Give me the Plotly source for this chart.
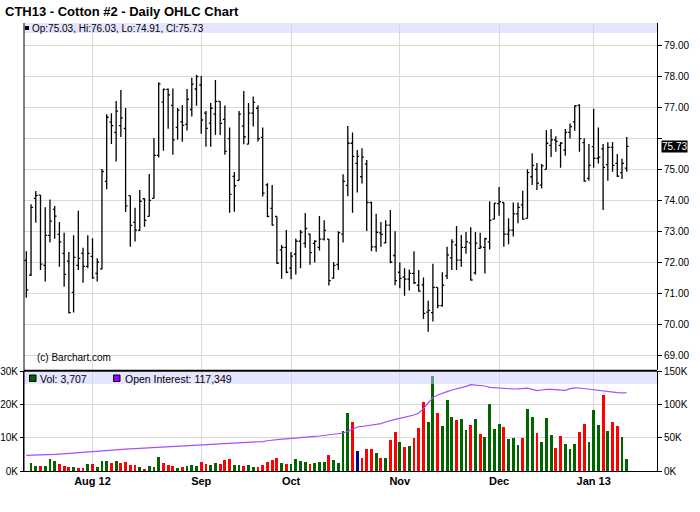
import plotly.graph_objects as go
import pandas as pd

# ---------------- data ----------------
holidays = ["2012-09-03", "2012-11-22", "2012-12-25", "2013-01-01"]
dates = [d.strftime("%Y-%m-%d") for d in pd.bdate_range("2012-07-12", "2013-01-11")
         if d.strftime("%Y-%m-%d") not in holidays]

month_ticks = ["2012-08-01", "2012-09-04", "2012-10-01", "2012-11-01", "2012-12-03", "2013-01-02"]
month_labels = ["Aug 12", "Sep", "Oct", "Nov", "Dec", "Jan 13"]

opens = [72.05, 71.58, 74.05, 74.16, 71.89, 72.86, 73.70, 72.89, 72.28, 72.03,
         71.02, 71.89, 72.28, 71.86, 72.18, 71.63, 71.78, 74.60, 76.51, 76.18,
         76.40, 76.31, 74.14, 73.28, 73.03, 74.04, 73.47, 74.05, 75.44, 77.16,
         77.57, 77.05, 76.34, 76.52, 76.44, 76.92, 77.58, 77.71, 76.80, 76.48,
         76.77, 77.18, 76.60, 75.98, 74.76, 74.63, 76.38, 75.80, 76.80, 76.96,
         76.02, 74.49, 73.73, 73.47, 72.39, 72.47, 71.80, 72.25, 72.67, 72.60,
         72.90, 72.60, 72.47, 72.74, 72.74, 71.48, 71.92, 72.90, 74.47, 75.83,
         75.18, 74.75, 75.16, 73.92, 72.49, 72.94, 72.62, 73.19, 72.21, 71.67,
         71.51, 71.45, 71.63, 71.25, 71.26, 70.38, 70.37, 71.18, 70.59, 71.55,
         72.13, 72.55, 72.06, 72.47, 72.62, 71.65, 72.44, 72.47, 72.65, 73.38,
         73.88, 73.92, 72.90, 73.03, 73.55, 73.84, 73.41, 74.75, 74.99, 74.48,
         74.99, 75.76, 75.94, 75.76, 75.61, 76.18, 76.52, 77.05, 75.85, 74.70,
         75.72, 75.34, 75.65, 75.14, 75.70, 75.18, 74.88, 75.03]
highs = [72.35, 73.86, 74.29, 74.16, 73.77, 74.02, 73.81, 73.29, 72.94, 72.32,
         72.86, 73.65, 72.46, 72.86, 72.77, 72.12, 75.00, 76.77, 76.80, 77.19,
         77.55, 76.97, 74.14, 73.75, 74.32, 74.06, 74.84, 76.00, 77.80, 77.60,
         77.60, 77.60, 76.97, 77.06, 77.58, 77.94, 78.04, 78.00, 76.87, 77.13,
         77.87, 77.18, 77.05, 76.34, 74.90, 76.87, 77.52, 77.13, 77.34, 77.06,
         76.34, 74.54, 74.48, 73.47, 72.55, 73.03, 72.32, 72.76, 73.03, 73.58,
         72.92, 72.70, 73.48, 73.35, 72.74, 72.00, 72.99, 74.83, 76.39, 76.18,
         75.61, 75.67, 75.29, 73.94, 73.56, 73.29, 73.35, 73.68, 72.99, 71.98,
         71.80, 71.76, 72.35, 71.74, 71.50, 70.75, 71.94, 71.18, 71.67, 72.49,
         72.73, 73.16, 72.87, 72.97, 73.12, 72.97, 72.94, 72.78, 73.96, 73.90,
         74.42, 73.92, 73.41, 73.92, 73.92, 74.30, 74.99, 75.51, 75.19, 75.16,
         76.26, 76.29, 76.06, 75.87, 76.29, 76.47, 77.05, 77.09, 75.99, 75.81,
         76.94, 76.34, 75.81, 75.86, 75.87, 75.48, 75.33, 76.03]
lows = [70.85, 71.55, 73.27, 71.74, 71.37, 72.63, 72.75, 71.85, 71.20, 70.34,
        70.37, 71.74, 71.33, 71.80, 71.46, 71.37, 71.76, 74.35, 75.81, 75.24,
        76.03, 73.61, 72.49, 72.66, 73.00, 73.14, 73.47, 74.05, 75.37, 75.59,
        76.30, 75.46, 75.94, 75.88, 76.24, 76.69, 77.04, 76.14, 75.72, 75.72,
        76.10, 76.10, 75.46, 73.59, 73.62, 74.63, 75.80, 75.80, 76.37, 75.89,
        74.11, 73.44, 73.18, 71.94, 71.46, 71.64, 71.44, 71.60, 71.80, 72.46,
        71.91, 71.98, 72.37, 72.69, 71.24, 71.46, 71.74, 72.63, 74.12, 73.59,
        74.24, 74.53, 73.00, 72.35, 72.33, 72.49, 72.60, 71.96, 71.25, 71.15,
        70.91, 71.08, 71.29, 71.04, 70.16, 69.75, 70.08, 70.51, 70.56, 71.45,
        71.74, 71.74, 71.85, 72.27, 71.40, 71.60, 72.42, 71.63, 72.40, 73.38,
        73.49, 72.49, 72.57, 72.82, 73.25, 73.36, 73.41, 74.48, 74.32, 74.37,
        74.99, 75.39, 75.56, 75.04, 75.43, 75.98, 76.23, 75.56, 74.59, 74.62,
        75.04, 75.18, 73.68, 74.62, 74.91, 74.74, 74.68, 74.91]
closes = [71.10, 73.76, 74.15, 71.93, 72.86, 73.32, 73.48, 72.65, 71.60, 70.37,
          72.15, 72.12, 71.86, 72.28, 71.49, 72.00, 74.92, 76.67, 76.40, 76.87,
          76.65, 73.81, 73.18, 73.03, 73.96, 73.34, 73.99, 75.44, 77.74, 77.57,
          77.39, 75.94, 76.90, 76.41, 77.25, 77.74, 77.98, 76.58, 76.31, 76.96,
          77.18, 76.47, 75.57, 74.18, 74.46, 76.77, 76.04, 76.80, 77.15, 75.98,
          74.22, 73.47, 73.19, 71.96, 72.47, 71.67, 72.19, 72.67, 72.96, 73.08,
          72.30, 72.67, 72.74, 73.02, 71.40, 71.89, 72.95, 74.60, 75.83, 75.41,
          75.41, 75.38, 73.92, 72.49, 72.96, 72.89, 73.19, 72.00, 71.40, 71.47,
          71.45, 71.63, 71.33, 71.06, 70.34, 70.44, 71.18, 70.59, 71.25, 72.23,
          72.65, 72.06, 72.47, 72.66, 71.42, 72.61, 72.49, 72.75, 73.34, 73.90,
          73.95, 72.90, 73.03, 73.55, 73.76, 73.38, 74.88, 75.12, 74.54, 75.10,
          75.83, 75.94, 75.89, 75.83, 76.18, 76.37, 77.04, 75.98, 74.61, 75.12,
          75.34, 75.38, 75.05, 75.70, 75.12, 74.77, 75.18, 75.73]

volume_k = [None, 2.3, 1.5, 1.5, 1.5, 3.6, 3.0, 2.1, 1.5, 1.2,
            1.2, 0.9, 0.9, 2.1, 2.1, 1.2, 3.0, 3.0, 2.4, 3.0,
            2.4, 2.7, 1.8, 1.8, 1.2, 0.6, 1.5, 1.2, 4.2, 2.4,
            1.8, 1.5, 0.9, 1.2, 1.5, 1.8, 1.5, 2.7, 2.1, 1.8,
            2.4, 2.1, 3.3, 3.6, 1.8, 1.8, 1.5, 1.8, 1.2, 1.2,
            1.8, 2.7, 3.3, 3.9, 2.4, 2.1, 2.1, 3.6, 3.0, 2.7,
            2.1, 2.4, 2.7, 2.7, 4.8, 3.3, 2.4, 12.0, 17.4, 14.7,
            6.1, 4.0, 6.6, 6.6, 5.4, 4.0, 4.0, 9.3, 11.8, 8.8,
            7.2, 7.5, 9.9, 12.9, 20.6, 14.7, 28.4, 17.4, 13.6, 21.2,
            16.2, 15.3, 15.6, 12.3, 13.8, 15.6, 11.1, 10.2, 20.0, 12.6,
            14.1, 13.2, 9.6, 9.9, 7.8, 9.9, 18.5, 16.2, 11.4, 8.7,
            15.9, 10.8, 6.9, 10.5, 8.1, 6.6, 8.1, 11.7, 14.1, 8.7,
            18.2, 13.8, 22.8, 12.0, 14.7, 13.5, 10.2, 3.707]

open_interest_k = [23.4, 23.5, 23.6, 23.8, 24.0, 24.3, 24.8, 25.4, 26.0, 26.5,
                   27.0, 27.4, 27.8, 28.3, 28.8, 29.6, 30.4, 31.2, 31.6, 32.0,
                   32.4, 32.7, 33.1, 33.5, 33.9, 34.3, 34.7, 35.0, 35.4, 35.8,
                   36.1, 36.5, 36.9, 37.2, 37.6, 37.9, 38.3, 38.6, 38.9, 39.2,
                   39.6, 39.9, 40.3, 40.6, 41.0, 41.4, 41.8, 42.3, 42.8, 43.3,
                   44.2, 45.4, 46.5, 47.3, 47.8, 48.3, 48.7, 49.1, 49.5, 50.3,
                   51.1, 51.8, 52.5, 53.2, 53.8, 54.5, 55.3, 57.0, 59.5, 63.0,
                   66.0, 66.8, 67.6, 68.6, 69.8, 71.0, 73.5, 76.0, 77.5, 79.0,
                   80.5, 82.0, 84.0, 87.0, 93.5, 102.0, 110.0, 114.0, 116.0, 119.0,
                   121.5, 123.0, 124.5, 127.0, 129.5, 129.0, 128.0, 127.5, 125.5, 124.8,
                   124.0, 123.5, 123.2, 123.0, 123.2, 123.8, 124.2, 122.5, 120.5, 121.5,
                   122.5, 122.3, 122.0, 121.5, 121.0, 123.5, 124.8, 124.5, 123.5, 122.5,
                   122.0, 120.5, 119.5, 118.5, 117.8, 117.5, 117.3, 117.349]

price_ticks = [69, 70, 71, 72, 73, 74, 75, 76, 77, 78, 79]
vol_ticks = [0, 10, 20, 30]
oi_ticks = [0, 50, 100, 150]

# ---------------- styling ----------------
W, H = 700, 512
L, R, T, B = 24, 43, 23, 41
PW, PH = W - L - R, H - T - B
FONT = "Liberation Sans, Arial, Helvetica, sans-serif"
GRID = "#d9d9d9"


def px(x):
    return (x - L) / PW


def py(y):
    return (H - B - y) / PH


vol_colors = []
for i in range(len(closes)):
    if i == 0 or closes[i] > closes[i - 1]:
        vol_colors.append("#006400")
    elif closes[i] < closes[i - 1]:
        vol_colors.append("#ff0000")
    else:
        vol_colors.append("#000080")

fig = go.Figure()
fig.add_trace(go.Ohlc(
    x=dates, open=opens, high=highs, low=lows, close=closes,
    increasing=dict(line=dict(color="black", width=1.3)),
    decreasing=dict(line=dict(color="black", width=1.3)),
    tickwidth=0.4, xaxis="x", yaxis="y", showlegend=False, hoverinfo="skip"))
fig.add_trace(go.Bar(
    x=dates, y=volume_k, marker=dict(color=vol_colors, line=dict(width=0)),
    width=0.6, xaxis="x2", yaxis="y2", showlegend=False, hoverinfo="skip"))
fig.add_trace(go.Scatter(
    x=dates, y=open_interest_k, mode="lines", line=dict(color="#a64dff", width=1.2),
    xaxis="x2", yaxis="y3", showlegend=False, hoverinfo="skip"))

price_lo = 69 - (370 - 355) / 31
price_hi = 79 + (45 - 23) / 31
xrange = [-0.49, 133.4]

price_text = ["" if v == 76 else f"{v:.2f}" for v in price_ticks]

fig.update_layout(
    width=W, height=H, autosize=False,
    margin=dict(l=L, r=R, t=T, b=B, pad=0, autoexpand=False),
    paper_bgcolor="white", plot_bgcolor="white",
    font=dict(family=FONT, size=10, color="black"),
    bargap=0, showlegend=False,
    xaxis=dict(anchor="y", type="category", range=xrange, tickvals=month_ticks,
               showticklabels=False, showgrid=True, gridcolor=GRID, gridwidth=1,
               ticks="", zeroline=False, showline=False, automargin=False,
               rangeslider=dict(visible=False)),
    xaxis2=dict(anchor="y2", type="category", matches="x", range=xrange,
                tickvals=month_ticks, ticktext=[f"<b>{t}</b>" for t in month_labels],
                tickfont=dict(size=11, family=FONT, color="black"),
                showgrid=True, gridcolor=GRID, gridwidth=1, ticks="", automargin=False,
                zeroline=False, showline=True, linecolor="black", linewidth=1),
    yaxis=dict(domain=[py(370), 1], range=[price_lo, price_hi], side="right",
               tickvals=price_ticks, ticktext=price_text, automargin=False,
               tickfont=dict(size=10, family=FONT, color="black"),
               ticks="outside", ticklen=4, tickcolor="black",
               showgrid=True, gridcolor=GRID, gridwidth=1,
               showline=True, linecolor="black", linewidth=1, zeroline=False),
    yaxis2=dict(domain=[0, py(371)], range=[0, 30], side="left", anchor="x2",
                tickvals=vol_ticks, ticktext=[f"{v}K" for v in vol_ticks],
                tickfont=dict(size=10, family=FONT, color="black"), automargin=False,
                ticks="outside", ticklen=3, tickcolor="black",
                showgrid=True, gridcolor=GRID, gridwidth=1,
                showline=True, linecolor="black", linewidth=1, zeroline=False),
    yaxis3=dict(overlaying="y2", anchor="x2", side="right", range=[0, 150],
                tickvals=oi_ticks, ticktext=[f"{v}K" for v in oi_ticks],
                tickfont=dict(size=10, family=FONT, color="black"), automargin=False,
                ticks="outside", ticklen=4, tickcolor="black",
                showgrid=False, showline=True, linecolor="black", linewidth=1,
                zeroline=False),
)

shapes = [
    # legend bands
    dict(type="rect", xref="paper", yref="paper", x0=0, x1=1, y0=py(33), y1=1,
         fillcolor="rgba(204,204,255,0.5)", line=dict(width=0), layer="above"),
    dict(type="rect", xref="paper", yref="paper", x0=0, x1=1, y0=py(384), y1=py(372),
         fillcolor="rgba(204,204,255,0.5)", line=dict(width=0), layer="above"),
    # frame lines
    dict(type="line", xref="paper", yref="paper", x0=0, x1=0, y0=0, y1=1,
         line=dict(color="black", width=1), layer="above"),
    dict(type="line", xref="paper", yref="paper", x0=0, x1=1, y0=py(370.8), y1=py(370.8),
         line=dict(color="black", width=2), layer="above"),
    # legend squares
    dict(type="rect", xref="paper", yref="paper", x0=px(25), x1=px(29), y0=py(30), y1=py(26),
         fillcolor="black", line=dict(width=0), layer="above"),
    dict(type="rect", xref="paper", yref="paper", x0=px(29.5), x1=px(36), y0=py(381.5), y1=py(375),
         fillcolor="#006400", line=dict(color="black", width=1), layer="above"),
    dict(type="rect", xref="paper", yref="paper", x0=px(113.5), x1=px(120), y0=py(381.5), y1=py(375),
         fillcolor="#9900ff", line=dict(color="black", width=1), layer="above"),
]
fig.update_layout(shapes=shapes)

annotations = [
    dict(text="<b>CTH13 - Cotton #2 - Daily OHLC Chart</b>", x=px(4), y=py(11),
         font=dict(size=13, family=FONT, color="black")),
    dict(text=f"Op:{opens[-1]:.2f}, Hi:{highs[-1]:.2f}, Lo:{lows[-1]:.2f}, Cl:{closes[-1]:.2f}",
         x=px(31), y=py(28), font=dict(size=10, family=FONT, color="black")),
    dict(text="(c) Barchart.com", x=px(36), y=py(357),
         font=dict(size=10, family=FONT, color="black")),
    dict(text=f"Vol: {round(volume_k[-1] * 1000):,}", x=px(39), y=py(378.5),
         font=dict(size=10.5, family=FONT, color="black")),
    dict(text=f"Open Interest: {round(open_interest_k[-1] * 1000):,}", x=px(124), y=py(378.5),
         font=dict(size=10.5, family=FONT, color="black")),
]
for a in annotations:
    a.update(xref="paper", yref="paper", xanchor="left", yanchor="middle",
             showarrow=False, borderpad=0)
fig.update_layout(annotations=annotations)
fig.add_annotation(text=f"{closes[-1]:.2f}", xref="paper", yref="y", x=px(660.5), y=closes[-1],
                   xanchor="left", yanchor="middle", showarrow=False,
                   bgcolor="black", font=dict(size=10, family=FONT, color="white"),
                   borderpad=0)

fig.write_html("out.html", config={"displayModeBar": False},
               post_script="document.body.style.margin='0';")
